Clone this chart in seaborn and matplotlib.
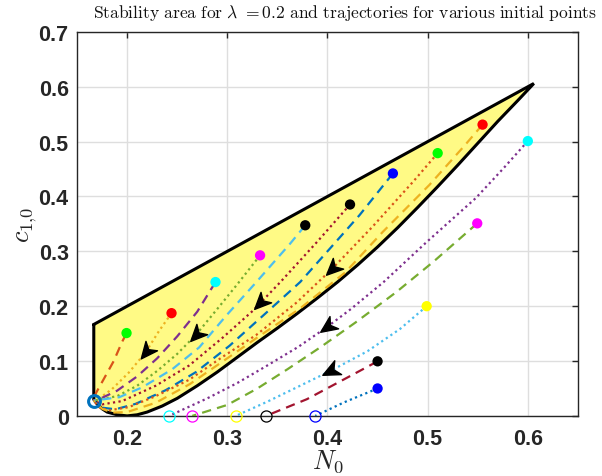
import numpy as np
import matplotlib
matplotlib.use("Agg")
import matplotlib.pyplot as plt
import seaborn as sns
from matplotlib.path import Path
from matplotlib.markers import MarkerStyle
from matplotlib.transforms import Affine2D

# ---------------- data ----------------
# stability region boundary
upper_N0 = [0.1667, 0.606]
upper_c = [0.1667, 0.606]
lower_N0 = [0.1667, 0.170, 0.175, 0.180, 0.190, 0.200, 0.210, 0.220, 0.235, 0.250, 0.270, 0.290,
            0.310, 0.330, 0.350, 0.370, 0.390, 0.410, 0.430, 0.450, 0.470, 0.490, 0.510, 0.530,
            0.550, 0.570, 0.590, 0.606]
lower_c = [0.030, 0.022, 0.013, 0.007, 0.002, 0.000, 0.002, 0.007, 0.018, 0.032, 0.055, 0.080,
           0.107, 0.134, 0.160, 0.187, 0.215, 0.244, 0.275, 0.308, 0.343, 0.380, 0.418, 0.457,
           0.497, 0.537, 0.575, 0.606]

# trajectories (start point first)
t1_N0 = [0.1994, 0.195, 0.1866, 0.1766, 0.169, 0.1665]
t1_c = [0.151, 0.135, 0.100, 0.067, 0.042, 0.030]
t2_N0 = [0.2443, 0.2319, 0.2185, 0.2017, 0.185, 0.1715, 0.1665]
t2_c = [0.1873, 0.155, 0.116, 0.079, 0.049, 0.031, 0.028]
t3_N0 = [0.2882, 0.270, 0.250, 0.230, 0.210, 0.190, 0.175, 0.1665]
t3_c = [0.244, 0.190, 0.145, 0.105, 0.072, 0.046, 0.033, 0.028]
t4_N0 = [0.3327, 0.310, 0.290, 0.2688, 0.250, 0.230, 0.210, 0.190, 0.1665]
t4_c = [0.2927, 0.240, 0.195, 0.148, 0.113, 0.082, 0.055, 0.036, 0.028]
t5_N0 = [0.3778, 0.3627, 0.329, 0.299, 0.272, 0.245, 0.215, 0.192, 0.1665]
t5_c = [0.3475, 0.314, 0.244, 0.183, 0.125, 0.085, 0.052, 0.034, 0.028]
t6_N0 = [0.4225, 0.390, 0.353, 0.3257, 0.2956, 0.262, 0.2285, 0.195, 0.175, 0.1665]
t6_c = [0.3854, 0.318, 0.244, 0.192, 0.143, 0.092, 0.055, 0.027, 0.021, 0.028]
t7_N0 = [0.4653, 0.432, 0.4024, 0.3727, 0.3358, 0.3023, 0.2688, 0.2386, 0.2085, 0.1883, 0.175, 0.1665]
t7_c = [0.442, 0.366, 0.305, 0.244, 0.183, 0.128, 0.080, 0.047, 0.022, 0.012, 0.015, 0.028]
t8_N0 = [0.510, 0.4855, 0.445, 0.4046, 0.3694, 0.3292, 0.2956, 0.262, 0.2285, 0.2017, 0.1816, 0.172, 0.1665]
t8_c = [0.479, 0.427, 0.345, 0.268, 0.207, 0.148, 0.108, 0.066, 0.036, 0.016, 0.010, 0.016, 0.028]
t9_N0 = [0.5548, 0.536, 0.5017, 0.4552, 0.418, 0.3727, 0.330, 0.296, 0.2626, 0.2286, 0.200, 0.185, 0.175, 0.1665]
t9_c = [0.531, 0.491, 0.421, 0.3355, 0.262, 0.196, 0.143, 0.100, 0.058, 0.024, 0.007, 0.006, 0.013, 0.028]
t10_N0 = [0.600, 0.575, 0.548, 0.499, 0.456, 0.4235, 0.3995, 0.371, 0.340, 0.310, 0.280, 0.255, 0.242]
t10_c = [0.501, 0.450, 0.397, 0.317, 0.244, 0.195, 0.162, 0.126, 0.092, 0.060, 0.032, 0.011, 0.0]
t11_N0 = [0.5495, 0.5057, 0.4687, 0.4285, 0.3928, 0.360, 0.330, 0.300, 0.265]
t11_c = [0.351, 0.281, 0.2257, 0.171, 0.125, 0.085, 0.050, 0.020, 0.0]
t12_N0 = [0.499, 0.4725, 0.440, 0.403, 0.3727, 0.340, 0.3085]
t12_c = [0.200, 0.1586, 0.118, 0.082, 0.055, 0.026, 0.0]
t13_N0 = [0.450, 0.423, 0.3795, 0.3386]
t13_c = [0.0995, 0.073, 0.0305, 0.0]
t14_N0 = [0.450, 0.4163, 0.3878]
t14_c = [0.050, 0.0245, 0.0]

traj_N0 = [t1_N0, t2_N0, t3_N0, t4_N0, t5_N0, t6_N0, t7_N0, t8_N0, t9_N0, t10_N0, t11_N0, t12_N0, t13_N0, t14_N0]
traj_c = [t1_c, t2_c, t3_c, t4_c, t5_c, t6_c, t7_c, t8_c, t9_c, t10_c, t11_c, t12_c, t13_c, t14_c]
start_colors = ['#00ff00', '#ff0000', '#00ffff', '#ff00ff', '#000000', '#000000', '#0000ff',
                '#00ff00', '#ff0000', '#00ffff', '#ff00ff', '#ffff00', '#000000', '#0000ff']
end_circle_colors = {9: '#00ffff', 10: '#ff00ff', 11: '#ffff00', 12: '#000000', 13: '#0000ff'}

# arrows: (trajectory index, N0 location)
arrow_traj = [1, 3, 5, 7, 9, 11]
arrow_N0 = [0.2185, 0.2688, 0.3325, 0.4046, 0.3996, 0.403]

fixed_N0 = [0.1665]
fixed_c = [0.028]

title = r'$\mathrm{Stability\ area\ for\ }\lambda\mathrm{\ =0.2\ and\ trajectories\ for\ various\ initial\ points}$'

# ---------------- style ----------------
mcolors = [(0, 0.447, 0.741), (0.85, 0.325, 0.098), (0.929, 0.694, 0.125),
           (0.494, 0.184, 0.556), (0.466, 0.674, 0.188), (0.301, 0.745, 0.933),
           (0.635, 0.078, 0.184)]
sns.set_style("white")
plt.rcParams['mathtext.fontset'] = 'cm'
plt.rcParams['font.family'] = ['Liberation Sans', 'DejaVu Sans']

fig = plt.figure(figsize=(6.02, 4.77), dpi=100)
ax = fig.add_axes([0.128, 0.126, 0.832, 0.805])

# region
poly_N0 = upper_N0 + lower_N0[::-1][1:]
poly_c = upper_c + lower_c[::-1][1:]
ax.fill(poly_N0, poly_c, color=(1.0, 0.98, 0.52), zorder=1, lw=0)
ax.plot(poly_N0 + [poly_N0[0]], poly_c + [poly_c[0]], color='k', lw=2.2, zorder=2,
        solid_joinstyle='miter')

dash_style = (0, (4.2, 2.8))
dot_style = (0, (1, 1.5))
for i, (xs, ys) in enumerate(zip(traj_N0, traj_c)):
    col = mcolors[(i + 1) % 7]
    ls = dash_style if i % 2 == 0 else dot_style
    sns.lineplot(x=xs, y=ys, sort=False, estimator=None, color=col, lw=1.6,
                 linestyle=ls, ax=ax, zorder=3)

# arrows
arrow_path = Path([(0, 0), (-1.0, 0.45), (-0.72, 0), (-1.0, -0.45), (0, 0)],
                  [Path.MOVETO, Path.LINETO, Path.LINETO, Path.LINETO, Path.CLOSEPOLY])
for ti, xa in zip(arrow_traj, arrow_N0):
    xs = np.array(traj_N0[ti]); ys = np.array(traj_c[ti])
    order = np.argsort(xs)
    ya = np.interp(xa, xs[order], ys[order])
    yb = np.interp(xa - 0.01, xs[order], ys[order])
    p0 = ax.transData.transform((xa, ya)); p1 = ax.transData.transform((xa - 0.01, yb))
    ang = np.degrees(np.arctan2(p1[1] - p0[1], p1[0] - p0[0]))
    m = MarkerStyle(arrow_path.transformed(Affine2D().translate(0.5, 0).rotate_deg(ang)))
    ax.plot([xa], [ya], marker=m, ms=16, color='k', mec='k', lw=0, zorder=5)

# start points
for i in range(len(traj_N0)):
    sns.scatterplot(x=[traj_N0[i][0]], y=[traj_c[i][0]], color=start_colors[i], s=55,
                    edgecolor='none', ax=ax, zorder=6)
# end points on the axis
for i, col in end_circle_colors.items():
    ax.plot([traj_N0[i][-1]], [traj_c[i][-1]], marker='o', ms=8, mfc='none', mec=col,
            mew=0.9, zorder=6, clip_on=False)
ax.plot(fixed_N0, fixed_c, marker='o', ms=8.5, mfc='none', mec=mcolors[0], mew=2.2, zorder=6)

ax.set_xlim(0.15, 0.65)
ax.set_ylim(0, 0.7)
ax.set_xticks([0.2, 0.3, 0.4, 0.5, 0.6])
ax.set_yticks([0, 0.1, 0.2, 0.3, 0.4, 0.5, 0.6, 0.7])
ax.set_xticklabels(['0.2', '0.3', '0.4', '0.5', '0.6'])
ax.set_yticklabels(['0', '0.1', '0.2', '0.3', '0.4', '0.5', '0.6', '0.7'])
ax.grid(True, color='#dedede', lw=1.0)
ax.set_axisbelow(True)
ax.tick_params(direction='in', length=4, width=1, color='#262626', top=True, right=True,
               labelsize=15.5, labelcolor='#262626')
ax.tick_params(axis='x', pad=9)
ax.tick_params(axis='y', pad=6)
for lab in ax.get_xticklabels() + ax.get_yticklabels():
    lab.set_fontweight('bold')
for sp in ax.spines.values():
    sp.set_color('#262626'); sp.set_linewidth(1.0); sp.set_visible(True)
ax.set_xlabel(r'$N_0$', fontsize=19, color='#262626')
ax.set_ylabel(r'$c_{1{,}0}$', fontsize=19, color='#262626')
ax.xaxis.set_label_coords(0.5, -0.082)
ax.yaxis.set_label_coords(-0.075, 0.5)
fig.text(345 / 602, 1 - 13 / 477, title, ha='center', va='center', fontsize=12.6, color='#111111')

fig.savefig('out.png', dpi=100)
